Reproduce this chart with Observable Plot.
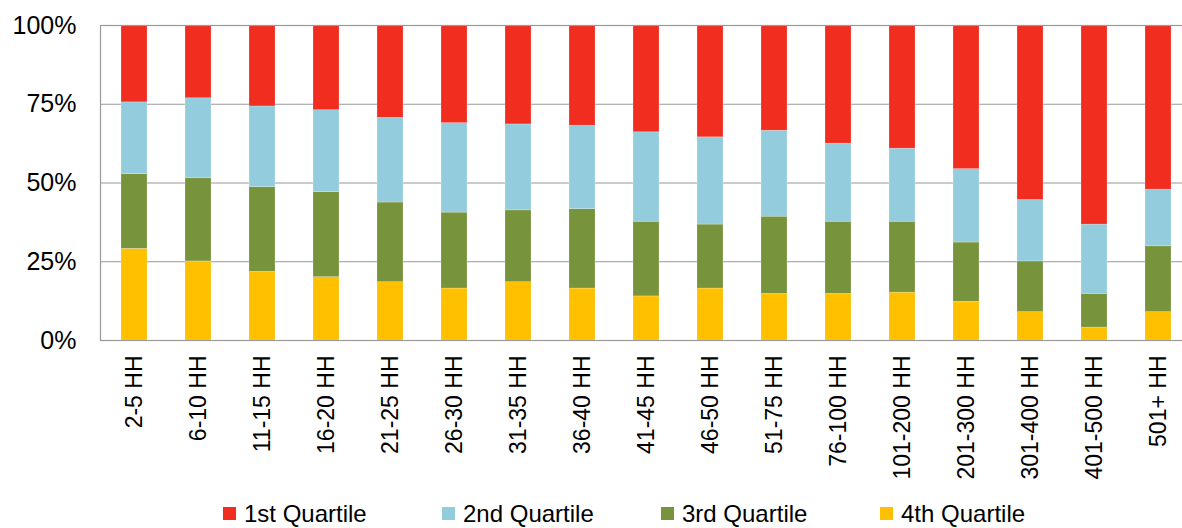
<!DOCTYPE html>
<html><head><meta charset="utf-8">
<script src="https://cdn.jsdelivr.net/npm/d3@7"></script>
<script src="https://cdn.jsdelivr.net/npm/@observablehq/plot@0.6"></script>
<style>
html,body{margin:0;padding:0;background:#fff;overflow:hidden;}
body{font-family:"Liberation Sans",Arial,sans-serif;width:1182px;height:528px;position:relative;}
#legend{display:flex;position:absolute;top:500px;left:223px;font-size:24px;color:#000;line-height:28px;}
.item{width:219px;display:flex;align-items:center;gap:8px;white-space:nowrap;}
.sw{width:13px;height:13px;position:relative;top:-1px;flex:none;}
</style></head><body>
<div id="chart"></div>
<div id="legend"></div>
<script>
const categories = ["2-5 HH","6-10 HH","11-15 HH","16-20 HH","21-25 HH","26-30 HH","31-35 HH","36-40 HH","41-45 HH","46-50 HH","51-75 HH","76-100 HH","101-200 HH","201-300 HH","301-400 HH","401-500 HH","501+ HH"];
const series = ["1st Quartile","2nd Quartile","3rd Quartile","4th Quartile"];
const colors = ["#F12D20","#93CDDD","#77933C","#FFC000"];
const q1 = [24.4,23.1,25.7,26.9,29.3,31.0,31.4,31.8,33.9,35.5,33.4,37.5,39.1,45.6,55.4,63.2,52.1];
const q2 = [22.8,25.4,25.6,26.0,26.9,28.4,27.3,26.5,28.4,27.7,27.3,24.8,23.2,23.3,19.5,22.0,18.0];
const q3 = [23.7,26.4,26.9,27.0,25.3,24.1,22.8,25.2,23.7,20.3,24.5,22.9,22.5,18.8,16.1,10.7,20.9];
const q4 = [29.1,25.1,21.8,20.1,18.5,16.5,18.5,16.5,14.0,16.5,14.8,14.8,15.2,12.3,9.0,4.1,9.0];
const yTicks = [0,25,50,75,100];

const rows = [];
categories.forEach((c,i)=>{
  rows.push({cat:c, s:series[3], v:q4[i]});
  rows.push({cat:c, s:series[2], v:q3[i]});
  rows.push({cat:c, s:series[1], v:q2[i]});
  rows.push({cat:c, s:series[0], v:q1[i]});
});

const chart = Plot.plot({
  width:1182, height:480,
  marginTop:25, marginBottom:140, marginLeft:100, marginRight:-10,
  x:{domain:categories, paddingInner:0.6, paddingOuter:0.3, label:null},
  y:{domain:[0,100], label:null},
  color:{domain:series, range:colors},
  style:{fontFamily:"'Liberation Sans', Arial, sans-serif", color:"#000", background:"#fff"},
  marks:[
    Plot.gridY(yTicks.slice(1),{stroke:"#999", strokeOpacity:1, strokeWidth:1.2}),
    Plot.barY(rows,{x:"cat", y:"v", fill:"s", order:null, stroke:"#fff", strokeOpacity:0.35, strokeWidth:0.6}),
    Plot.frame({stroke:"#999", strokeWidth:1.2}),
    Plot.axisY({ticks:yTicks, tickFormat:d=>d+"%", tickSize:0, tickPadding:24, fontSize:25}),
    Plot.axisX({tickRotate:-90, tickSize:0, tickPadding:15, fontSize:23})
  ]
});
document.getElementById("chart").appendChild(chart);

const legend = document.getElementById("legend");
series.forEach((s,i)=>{
  const it = document.createElement("div"); it.className="item";
  const sw = document.createElement("span"); sw.className="sw"; sw.style.background=colors[i];
  const tx = document.createElement("span"); tx.textContent=s;
  it.appendChild(sw); it.appendChild(tx); legend.appendChild(it);
});
</script>
</body></html>
